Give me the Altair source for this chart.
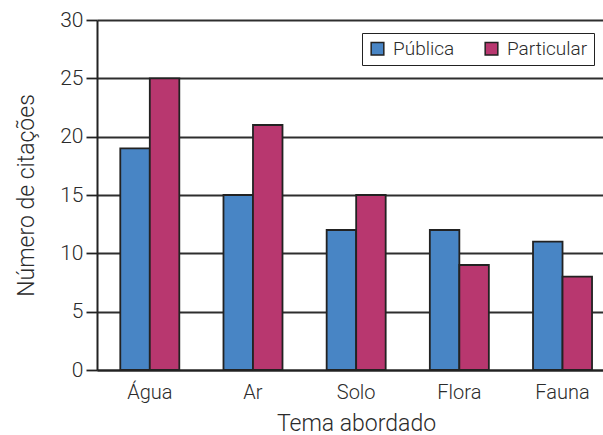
import altair as alt
import pandas as pd

# Citations per topic, by school type
temas = ["Água", "Ar", "Solo", "Flora", "Fauna"]
publica = [19, 15, 12, 12, 11]
particular = [25, 21, 15, 9, 8]
series = ["Pública", "Particular"]
cores = ["#4885c5", "#b8376f"]
y_ticks = [0, 5, 10, 15, 20, 25, 30]

rows = []
for tema, a, b in zip(temas, publica, particular):
    rows.append({"Tema": tema, "Escola": series[0], "Citações": a})
    rows.append({"Tema": tema, "Escola": series[1], "Citações": b})
df = pd.DataFrame(rows)

FONT = "Roboto"
WEIGHT = 300
INK = "#2b2b2b"

chart = alt.Chart(df).mark_bar(stroke="#222222", strokeWidth=1.8).encode(
    x=alt.X(
        "Tema:N",
        sort=temas,
        scale=alt.Scale(paddingInner=0.428, paddingOuter=0.166, align=0.68),
        axis=alt.Axis(
            title="Tema abordado",
            labelAngle=0,
            ticks=False,
            labelFontSize=20,
            labelFontWeight=WEIGHT,
            labelBaseline="alphabetic",
            labelPadding=28,
            labelColor=INK,
            labelFont=FONT,
            titleFont=FONT,
            titleFontSize=23,
            titleFontWeight=WEIGHT,
            titleColor=INK,
            titleX=259,
            titleY=60,
            titleBaseline="alphabetic",
            domainColor="#222222",
            domainWidth=2,
        ),
    ),
    xOffset=alt.XOffset("Escola:N", sort=series, scale=alt.Scale(paddingInner=0, paddingOuter=0)),
    y=alt.Y(
        "Citações:Q",
        scale=alt.Scale(domain=[0, 30], nice=False),
        axis=alt.Axis(
            title="Número de citações",
            values=y_ticks,
            grid=True,
            gridColor="#2e2e2e",
            gridWidth=1.8,
            tickSize=11,
            tickColor="#222222",
            tickWidth=1.8,
            labelFontSize=21,
            labelFontWeight=WEIGHT,
            labelPadding=3,
            labelColor=INK,
            labelFont=FONT,
            titleFont=FONT,
            titleFontSize=23,
            titleFontWeight=WEIGHT,
            titleColor=INK,
            titleAngle=270,
            titleX=-64,
            titleY=175,
            titleAlign="center",
            titleBaseline="alphabetic",
            domainColor="#222222",
            domainWidth=2,
        ),
    ),
    color=alt.Color(
        "Escola:N",
        sort=series,
        scale=alt.Scale(domain=series, range=cores),
        legend=alt.Legend(
            title=None,
            orient="none",
            legendX=265,
            legendY=13,
            direction="horizontal",
            fillColor="white",
            strokeColor="#222222",
            padding=6,
            symbolType="square",
            symbolSize=160,
            symbolStrokeColor="#222222",
            symbolStrokeWidth=1.5,
            symbolOpacity=1,
            labelFontSize=19,
            labelFont=FONT,
            labelFontWeight=WEIGHT,
            labelColor=INK,
            labelOffset=6,
            columnPadding=27,
        ),
    ),
).properties(
    width=506,
    height=350,
    autosize=alt.AutoSizeParams(type="none"),
    padding={"left": 97, "top": 20, "right": 0, "bottom": 65},
).configure_view(
    fill="#d0d0d0",
    stroke="transparent",
).configure_legend(
    strokeWidth=1.5,
).configure(background="white")

chart.save("out.html", embed_options={"renderer": "svg", "actions": False})
